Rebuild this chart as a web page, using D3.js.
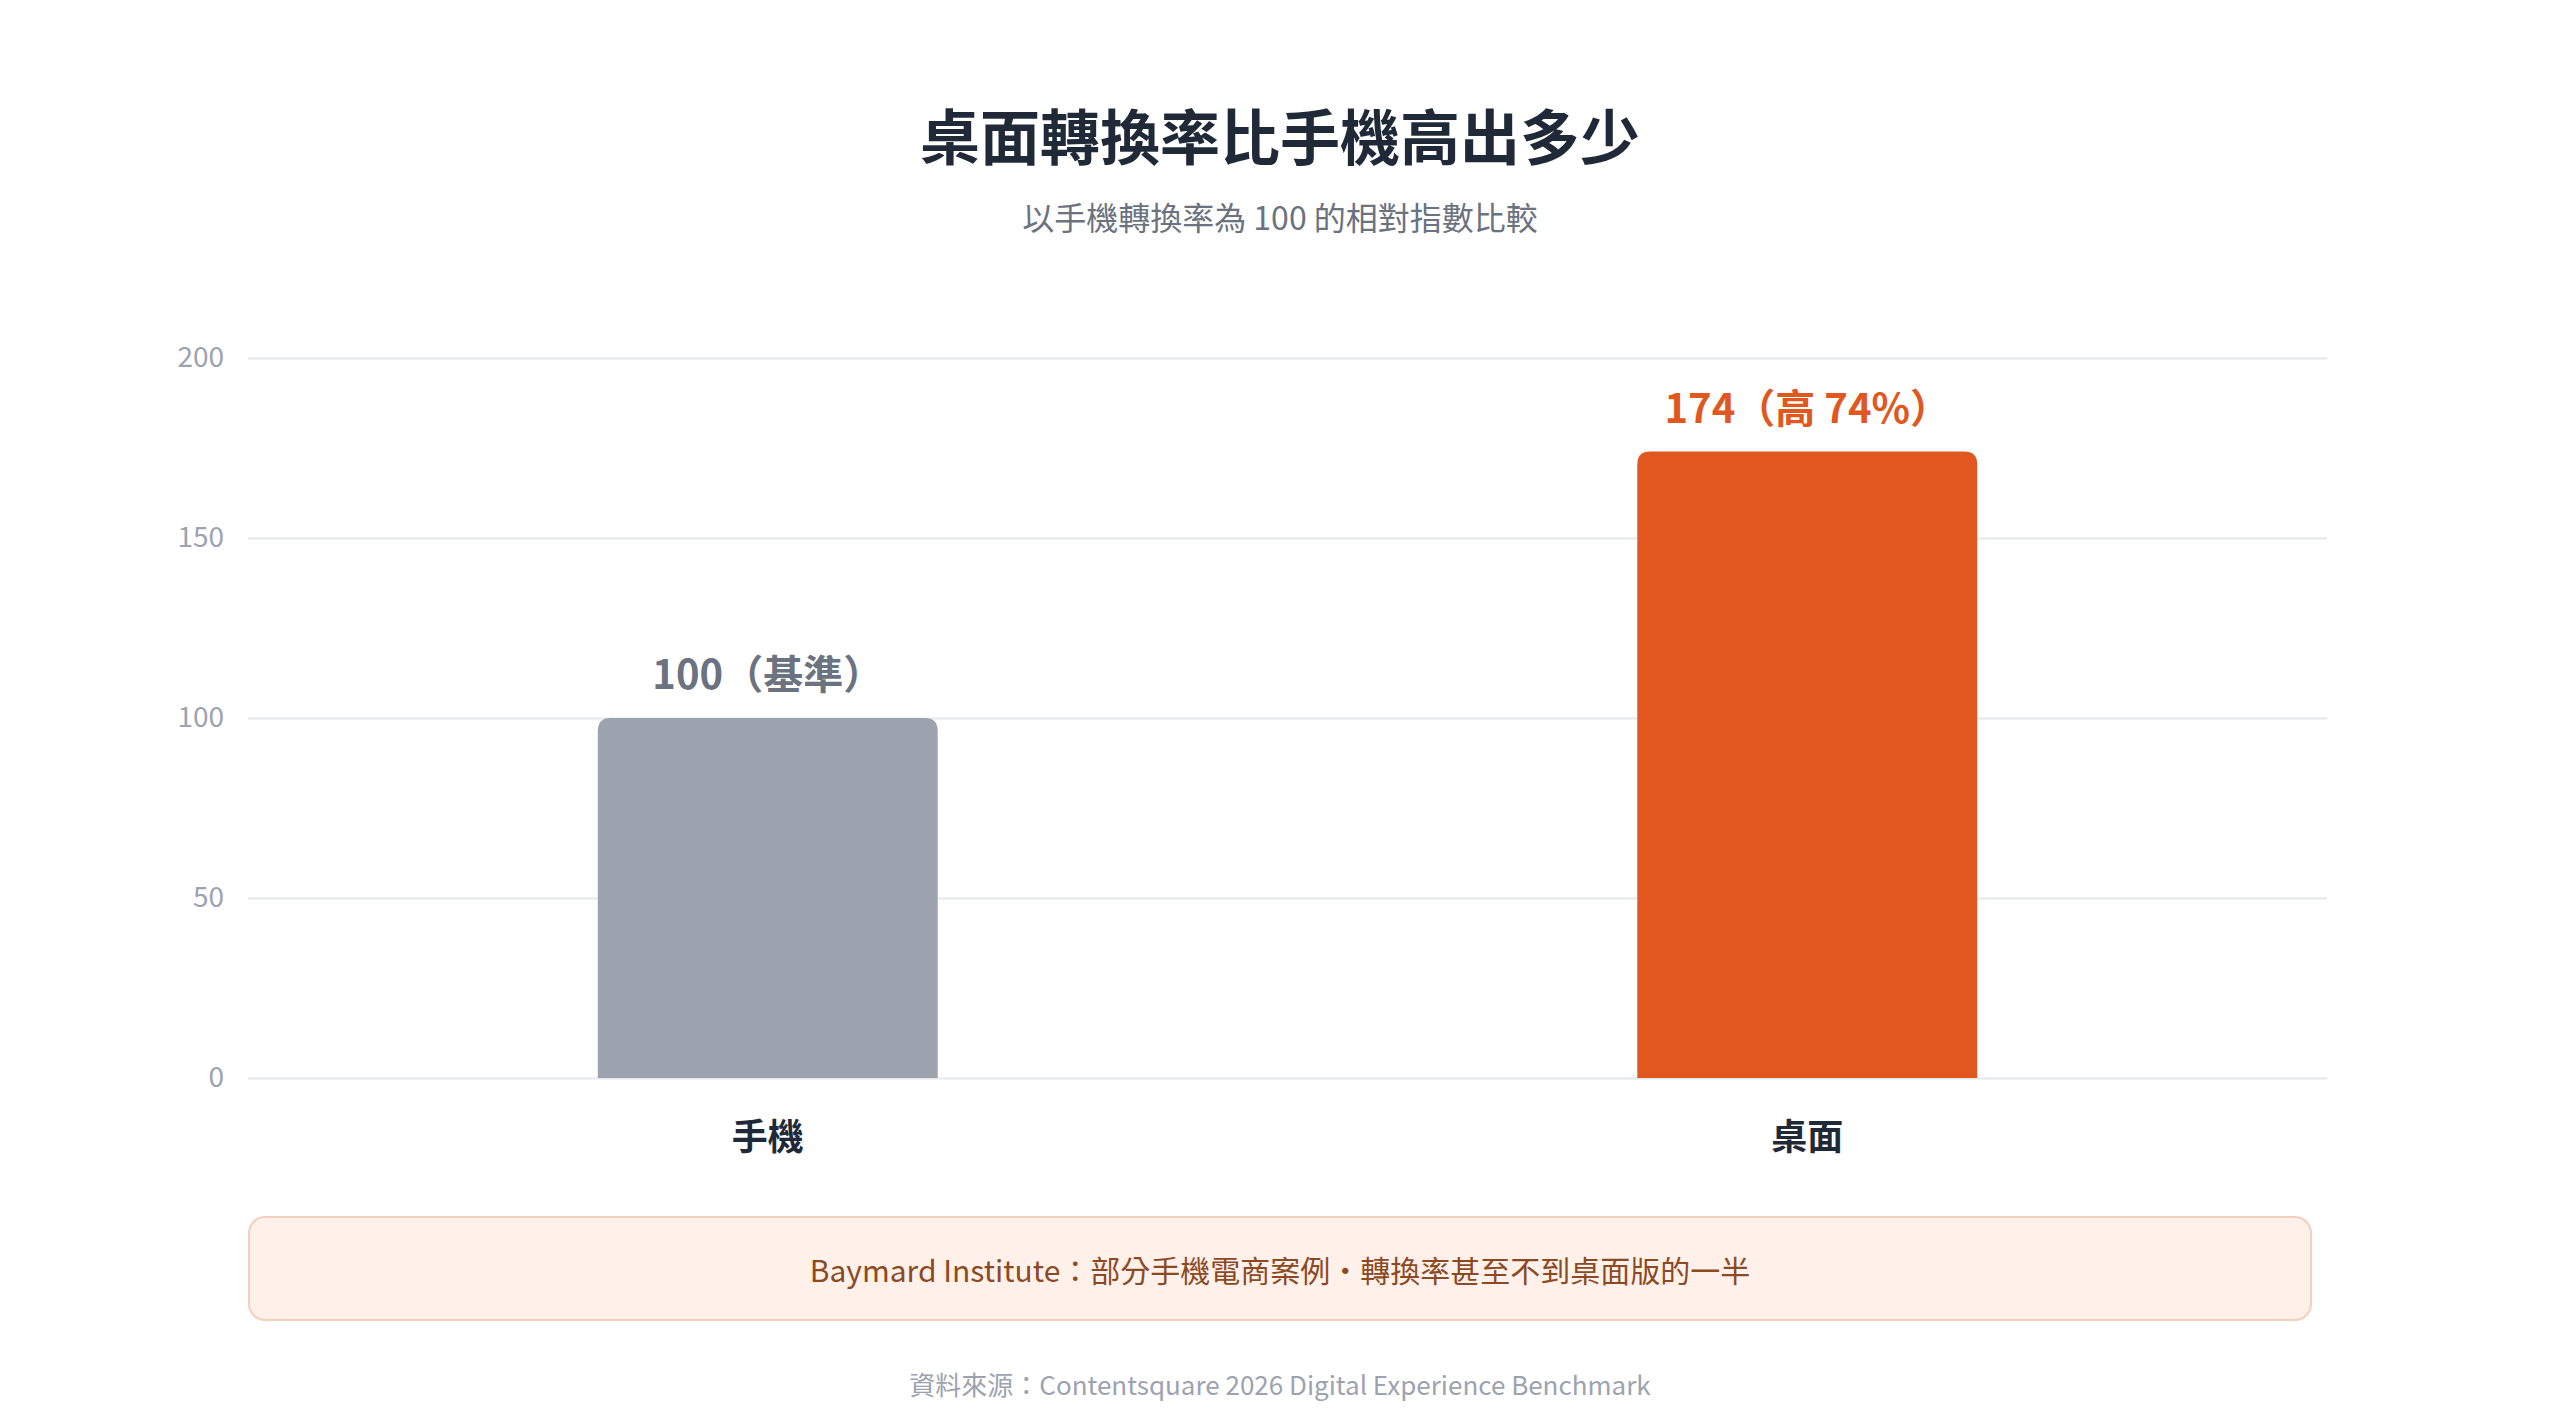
<!DOCTYPE html>
<html>
<head>
<meta charset="utf-8">
<script src="https://cdn.jsdelivr.net/npm/d3@7"></script>
<style>
  html, body { margin: 0; padding: 0; background: #ffffff; }
  text { font-family: "Noto Sans CJK TC", "Noto Sans", sans-serif; }
</style>
</head>
<body>
<div id="chart"></div>
<script>
// data
var categories = ["手機", "桌面"];
var values = [100, 174];
var valueLabels = ["100（基準）", "174（高 74%）"];
var yTicks = [0, 50, 100, 150, 200];
var titleText = "桌面轉換率比手機高出多少";
var subtitleText = "以手機轉換率為 100 的相對指數比較";
var noteText = "Baymard Institute：部分手機電商案例・轉換率甚至不到桌面版的一半";
var sourceText = "資料來源：Contentsquare 2026 Digital Experience Benchmark";

var barColors = ["#9ca3af", "#e0581f"];
var labelColors = ["#6b7280", "#e0581f"];

var svgWidth = 2560;
var svgHeight = 1424;

var margin = { top: 358, right: 233, bottom: 346, left: 248 };
var width = svgWidth - margin.left - margin.right;
var height = svgHeight - margin.top - margin.bottom;

var svg = d3.select("#chart")
  .append("svg")
  .attr("width", svgWidth)
  .attr("height", svgHeight);

svg.append("rect")
  .attr("width", svgWidth)
  .attr("height", svgHeight)
  .attr("fill", "#ffffff");

// title + subtitle
svg.append("text")
  .attr("x", svgWidth / 2)
  .attr("y", 160)
  .attr("text-anchor", "middle")
  .attr("font-size", 60)
  .attr("font-weight", 700)
  .attr("fill", "#1f2937")
  .text(titleText);

svg.append("text")
  .attr("x", svgWidth / 2)
  .attr("y", 230)
  .attr("text-anchor", "middle")
  .attr("font-size", 32)
  .attr("fill", "#6b7280")
  .text(subtitleText);

var chartGroup = svg.append("g")
  .attr("transform", `translate(${margin.left}, ${margin.top})`);

var xScale = d3.scaleBand()
  .domain(categories)
  .range([0, width])
  .padding(0);

var yScale = d3.scaleLinear()
  .domain([0, 200])
  .range([height, 0]);

// grid lines
var yAxis = d3.axisLeft(yScale)
  .tickValues(yTicks)
  .tickSize(-width)
  .tickPadding(24);

var yAxisG = chartGroup.append("g").call(yAxis);
yAxisG.select(".domain").remove();
yAxisG.selectAll(".tick line")
  .attr("stroke", "#e5e7eb")
  .attr("stroke-width", 2);
yAxisG.selectAll(".tick text")
  .attr("font-size", 28)
  .attr("fill", "#9ca3af")
  .style("font-family", "'Noto Sans CJK TC', sans-serif");

// bars with rounded top corners
var barW = xScale.bandwidth() * 0.327;
var r = 13;

function barPath(d, i) {
  var x0 = xScale(categories[i]) + (xScale.bandwidth() - barW) / 2;
  var x1 = x0 + barW;
  var y0 = yScale(d);
  var yb = yScale(0);
  return `M${x0},${yb} L${x0},${y0 + r} Q${x0},${y0} ${x0 + r},${y0} ` +
    `L${x1 - r},${y0} Q${x1},${y0} ${x1},${y0 + r} L${x1},${yb} Z`;
}

chartGroup.selectAll("path.bar")
  .data(values)
  .enter()
  .append("path")
  .attr("class", "bar")
  .attr("d", (d, i) => barPath(d, i))
  .attr("fill", (d, i) => barColors[i]);

// value labels
chartGroup.selectAll("text.valueLabel")
  .data(values)
  .enter()
  .append("text")
  .attr("class", "valueLabel")
  .attr("x", (d, i) => xScale(categories[i]) + xScale.bandwidth() / 2)
  .attr("y", d => yScale(d) - 29)
  .attr("text-anchor", "middle")
  .attr("font-size", 40)
  .attr("font-weight", 600)
  .attr("fill", (d, i) => labelColors[i])
  .text((d, i) => valueLabels[i]);

// category labels
var xAxis = d3.axisBottom(xScale).tickSize(0).tickPadding(46);
var xAxisG = chartGroup.append("g")
  .attr("transform", `translate(0, ${height})`)
  .call(xAxis);
xAxisG.select(".domain").remove();
xAxisG.selectAll(".tick text")
  .attr("font-size", 36)
  .attr("font-weight", 700)
  .attr("fill", "#1f2937")
  .style("font-family", "'Noto Sans CJK TC', sans-serif");

// note box
svg.append("rect")
  .attr("x", 249)
  .attr("y", 1217)
  .attr("width", 2062)
  .attr("height", 103)
  .attr("rx", 16)
  .attr("fill", "#fff1ea")
  .attr("stroke", "#f4cfbd")
  .attr("stroke-width", 2);

svg.append("text")
  .attr("x", 1280)
  .attr("y", 1282)
  .attr("text-anchor", "middle")
  .attr("font-size", 30)
  .attr("fill", "#8b4a24")
  .text(noteText);

// source
svg.append("text")
  .attr("x", svgWidth / 2)
  .attr("y", 1395)
  .attr("text-anchor", "middle")
  .attr("font-size", 26)
  .attr("fill", "#9ca3af")
  .text(sourceText);
</script>
</body>
</html>
